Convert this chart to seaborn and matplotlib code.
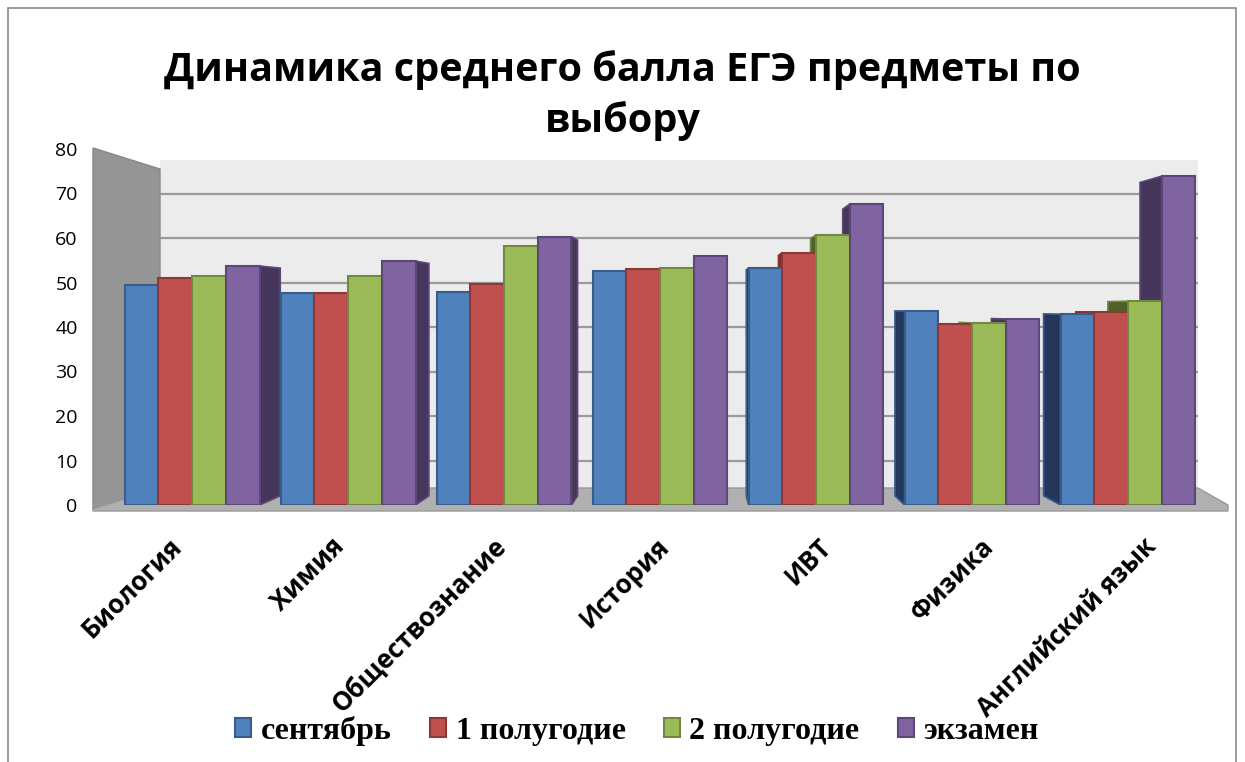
import matplotlib
matplotlib.use("Agg")
import matplotlib.pyplot as plt
import matplotlib.transforms as mtransforms
import seaborn as sns
import pandas as pd
from matplotlib.patches import Polygon, Rectangle

categories = ["Биология", "Химия", "Обществознание", "История", "ИВТ", "Физика", "Английский язык"]
series = ["сентябрь", "1 полугодие", "2 полугодие", "экзамен"]
september = [49.4, 47.6, 47.9, 52.6, 53.3, 43.6, 42.9]
half1 = [51.1, 47.6, 49.6, 53.0, 56.7, 40.7, 43.4]
half2 = [51.5, 51.5, 58.3, 53.3, 60.7, 40.9, 45.8]
exam = [53.7, 54.8, 60.3, 56.0, 67.6, 41.8, 73.9]
yticks = [0, 10, 20, 30, 40, 50, 60, 70, 80]
title = "Динамика среднего балла ЕГЭ предметы по\nвыбору"

colors = ["#4F81BD", "#C0504D", "#9BBB59", "#8064A2"]
edges = ["#385D8A", "#8C3836", "#71893F", "#5C4776"]
sides = ["#22375A", "#7B2C2A", "#4F6128", "#46365C"]

rows = []
for s, vals in zip(series, [september, half1, half2, exam]):
    for c, v in zip(categories, vals):
        rows.append({"Предмет": c, "Период": s, "Балл": v})
df = pd.DataFrame(rows)

sns.set_theme(style="white")
plt.rcParams["font.family"] = ["Open Sans", "DejaVu Sans"]
for k in ["text.color", "axes.labelcolor", "xtick.color", "ytick.color"]:
    plt.rcParams[k] = "black"

W, H = 1245, 762
fig = plt.figure(figsize=(W / 100, H / 100), dpi=100)
fig.patch.set_facecolor("white")

ax_left, ax_right, ax_bottom, ax_top = 93, 1230, 505, 149
ax = fig.add_axes([ax_left / W, 1 - ax_bottom / H, (ax_right - ax_left) / W, (ax_bottom - ax_top) / H])
ax.set_facecolor("none")

px = lambda x: (x - ax_left) / (ax_right - ax_left)
py = lambda y: (ax_bottom - y) / (ax_bottom - ax_top)

# back wall
back = Rectangle((px(160), py(488)), px(1198) - px(160), py(160) - py(488),
                 transform=ax.transAxes, facecolor="#ececec", edgecolor="none", zorder=0)
ax.add_patch(back)

sns.barplot(data=df, x="Предмет", y="Балл", hue="Период", order=categories,
            hue_order=series, palette=colors, width=0.865, gap=0,
            saturation=1, ax=ax, legend=False, zorder=3)

ax.set_ylim(0, 80)
ax.set_xlim(-0.635, 6.654)

# pseudo-3D depth faces derived from the bar geometry
vx, vy, t = 3.26, 43.8, 0.047
for i, cont in enumerate(ax.containers):
    for bar in cont:
        bar.set_edgecolor(edges[i])
        bar.set_linewidth(1.5)
        x0 = bar.get_x()
        x1 = x0 + bar.get_width()
        h = bar.get_height()
        xe = x1 if x1 < vx else (x0 if x0 > vx else None)
        if xe is not None:
            pts = [(xe, 0), (xe, h), (xe + t * (vx - xe), h + t * (vy - h)),
                   (xe + t * (vx - xe), t * vy)]
            ax.add_patch(Polygon(pts, closed=True, facecolor=sides[i],
                                 edgecolor=edges[i], lw=1.2, zorder=2.5))

ax.set_yticks(yticks)
ax.set_yticklabels([str(t_) for t_ in yticks], fontsize=14)
ax.tick_params(axis="y", length=0, pad=11)
ax.yaxis.grid(True, color="#9a9a9a", linewidth=1.6, zorder=1)
for gl in ax.get_ygridlines():
    gl.set_clip_path(back)
ax.set_axisbelow(True)
for sp in ax.spines.values():
    sp.set_visible(False)
ax.set_xlabel("")
ax.set_ylabel("")

ax.set_xticks(range(len(categories)))
ax.set_xticklabels(categories, rotation=45, ha="right", rotation_mode="anchor",
                   fontsize=18.5, fontweight="bold")
ax.tick_params(axis="x", length=0, pad=20)
for i, lab in enumerate(ax.get_xticklabels()):
    dx = (-24 + 6.4 * i) / 100
    shift = mtransforms.ScaledTranslation(dx, 0, fig.dpi_scale_trans)
    lab.set_transform(lab.get_transform() + shift)

# side wall and floor (decoration)
wall = Polygon([(px(93), py(148)), (px(160), py(169)), (px(160), py(488)), (px(93), py(509))],
               closed=True, transform=ax.transAxes, facecolor="#959595",
               edgecolor="#888888", lw=1, zorder=2, clip_on=False)
ax.add_patch(wall)
floor = Polygon([(px(93), py(509)), (px(160), py(488)), (px(1198), py(488)), (px(1228), py(505)),
                 (px(1228), py(511)), (px(93), py(511))],
                closed=True, transform=ax.transAxes, facecolor="#b0b0b0",
                edgecolor="#999999", lw=1, zorder=2, clip_on=False)
ax.add_patch(floor)

fig.text(0.5, 1 - 132 / H, title, ha="center", va="baseline", fontsize=28.5,
         fontweight="bold", linespacing=1.35)

handles = [Rectangle((0, 0), 1, 1, facecolor=c, edgecolor=e, lw=1.5) for c, e in zip(colors, edges)]
leg = fig.legend(handles, series, loc="center", bbox_to_anchor=(637 / W, 1 - 731 / H),
                 ncol=4, frameon=False, handlelength=0.5, handleheight=0.55,
                 handletextpad=0.3, columnspacing=1.2,
                 prop={"family": "Liberation Serif", "weight": "bold", "size": 23})

fig.patches.append(Rectangle((8 / W, -0.05), (1236 - 8) / W, 1 - 8 / H + 0.05,
                             transform=fig.transFigure, fill=False,
                             edgecolor="#8a8a8a", lw=1.2))

fig.savefig("out.png", dpi=100)
